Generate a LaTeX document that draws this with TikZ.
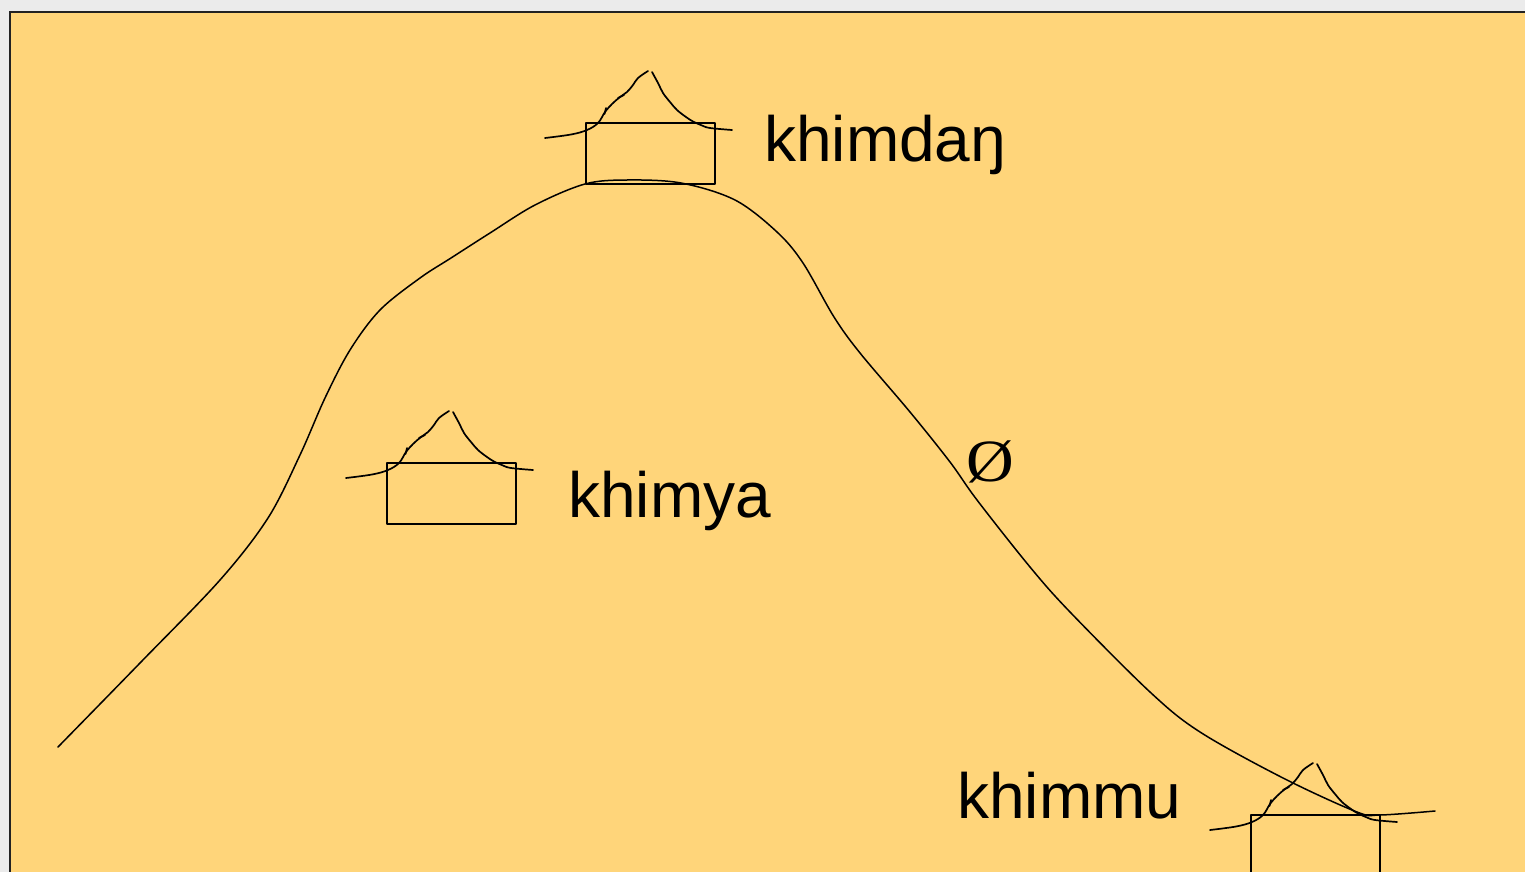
\documentclass[tikz,border=0pt]{standalone}
\usepackage{fontspec}
\setmainfont{Liberation Sans}
\newfontfamily\serifx{Liberation Serif}
\definecolor{pagegray}{HTML}{EBEBEB}
\definecolor{sand}{HTML}{FFD57A}
\definecolor{frame}{HTML}{222222}
\tikzset{
  ink/.style={draw=black, line width=1.7pt, line cap=round, line join=round},
  hill/.style={draw=black, line width=1.5pt, line cap=round},
  word/.style={font=\fontsize{64}{76}\selectfont, inner sep=0pt, anchor=base west},
  house/.pic={
    % body
    \draw[ink] (0,0) rectangle (129,61);
    % left slope of the roof, with two small pen barbs
    \draw[ink] plot[smooth, tension=0.6] coordinates {(-41,15) (-15,11.5) (1,7) (12,0) (19,-11) (26,-19) (34,-26) (41,-31) (47,-38) (52,-45) (62,-52)};
    \draw[ink] (20,-15) -- (18.5,-9);
    \draw[ink] (32,-25) -- (38,-28);
    % right slope of the roof
    \draw[ink] plot[smooth, tension=0.6] coordinates {(66,-51) (72,-40) (77,-30) (84,-21) (91,-13) (100,-6) (107,-1.5) (116,2.5) (124,5) (146,7)};
  }
}
\begin{document}
\begin{tikzpicture}[x=1pt, y=-1pt]
  \useasboundingbox (0,0) rectangle (1525,872);
  \fill[pagegray] (0,0) rectangle (1525,872);
  \filldraw[fill=sand, draw=frame, line width=2pt] (10,12) rectangle (1540,890);

  % the hill line
  \draw[hill] plot[smooth, tension=0.55] coordinates {
    (58,747) (140,663) (220,580) (268,518) (300,455) (325,398) (350,350)
    (380,310) (420,278) (451,258) (490,233) (535,205) (585,184) (627,180)
    (681,183) (735,200) (777,232) (803,263) (834,317) (860,353) (910,412)
    (950,462) (977,500) (1030,567) (1070,612) (1150,692) (1200,732)
    (1283,778) (1357,812) (1380,815) (1435,811)};

  % houses
  \pic (toph) at (586,123) {house};
  \pic (midh) at (387,463) {house};
  \pic (lowh) at (1251,815) {house};

  % labels
  \node[word] (ltop) at (764,161) {khimdaŋ};
  \node[word] (lmid) at (568,517) {khimya};
  \node[word] (llow) at (957,818) {khimmu};
  \node[font=\serifx\fontsize{60}{70}\selectfont, inner sep=0pt, anchor=base, xscale=1.1] (nul) at (990,481) {Ø};
\end{tikzpicture}
\end{document}
